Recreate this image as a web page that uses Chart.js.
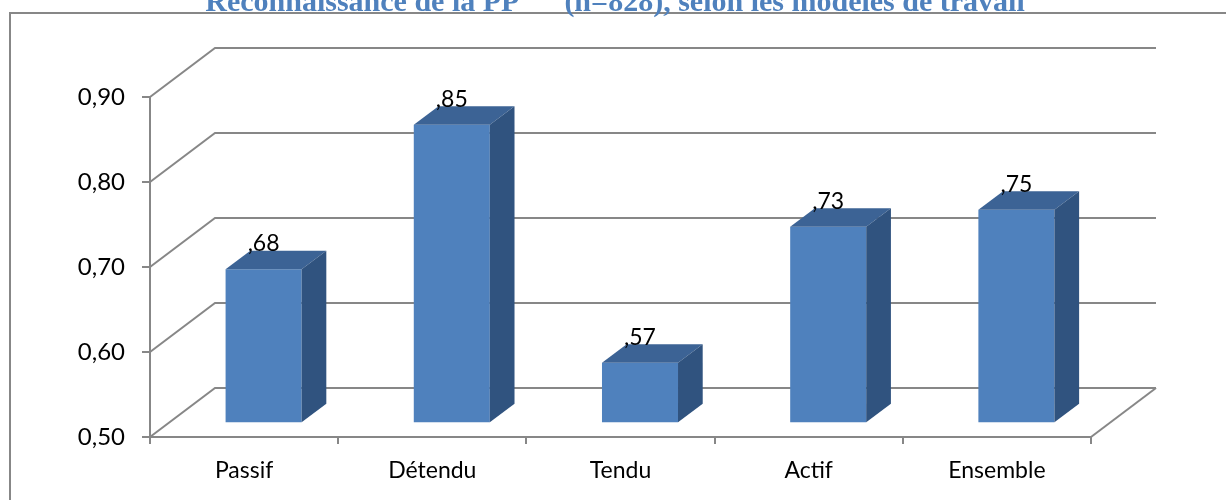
<!DOCTYPE html>
<html>
<head>
<meta charset="utf-8">
<script src="https://cdn.jsdelivr.net/npm/chart.js@4"></script>
<style>
  html, body { margin: 0; padding: 0; background: #fff; }
  #wrap { width: 1226px; height: 500px; }
</style>
</head>
<body>
<div id="wrap"><canvas id="myChart" width="1226" height="500"></canvas></div>
<script>
// scores per work model
const categories = ['Passif', 'Détendu', 'Tendu', 'Actif', 'Ensemble'];
const scores = [0.68, 0.85, 0.57, 0.73, 0.75];
const scoreLabels = [',68', ',85', ',57', ',73', ',75'];
const yMin = 0.5;
const yMax = 0.9;
const yStep = 0.1;
const titleText = 'Reconnaissance de la PP      (n=828), selon les modèles de travail';

const gridColor = '#878787';
const frontColor = '#4f81bd';
const topColor = '#3c6395';
const sideColor = '#30537f';

// fake 3d: floor depth and where the columns sit inside it
const depth = { dx: 65, dy: 49 };
const barFront = 0.3;
const barDepth = 0.38;

const pseudo3d = {
    id: 'pseudo3d',
    beforeDraw(chart) {
        const ctx = chart.ctx;
        ctx.save();
        ctx.fillStyle = '#fff';
        ctx.fillRect(0, 0, chart.width, chart.height);
        // frame round the chart
        ctx.strokeStyle = gridColor;
        ctx.lineWidth = 2;
        ctx.strokeRect(10, 13, chart.width + 20, chart.height + 20);
        // heading above the frame
        ctx.fillStyle = '#4f81bd';
        ctx.font = 'bold 30px "Liberation Serif"';
        ctx.textAlign = 'center';
        ctx.textBaseline = 'alphabetic';
        ctx.fillText(titleText, 615, 11);
        ctx.restore();
    },
    beforeDatasetsDraw(chart) {
        const { ctx, chartArea: a, scales: { y } } = chart;
        ctx.save();
        ctx.strokeStyle = gridColor;
        ctx.lineWidth = 2;
        // side wall diagonals + back wall gridlines
        y.ticks.forEach(t => {
            const py = y.getPixelForValue(t.value);
            ctx.beginPath();
            ctx.moveTo(a.left, py);
            ctx.lineTo(a.left + depth.dx, py - depth.dy);
            ctx.lineTo(a.right + depth.dx, py - depth.dy);
            ctx.stroke();
        });
        // right edge of the floor
        ctx.beginPath();
        ctx.moveTo(a.right, a.bottom);
        ctx.lineTo(a.right + depth.dx, a.bottom - depth.dy);
        ctx.stroke();
        ctx.restore();
    },
    beforeDatasetDraw(chart) {
        chart.ctx.save();
        chart.ctx.translate(depth.dx * barFront, -depth.dy * barFront);
    },
    afterDatasetDraw(chart) {
        chart.ctx.restore();
    },
    afterDatasetsDraw(chart) {
        const ctx = chart.ctx;
        const ox = depth.dx * barFront, oy = depth.dy * barFront;
        const bx = depth.dx * barDepth, by = depth.dy * barDepth;
        const meta = chart.getDatasetMeta(0);
        const floor = chart.scales.y.getPixelForValue(yMin);
        ctx.save();
        meta.data.forEach((bar, i) => {
            const left = bar.x - bar.width / 2 + ox;
            const right = bar.x + bar.width / 2 + ox;
            const top = bar.y - oy;
            const base = floor - oy;
            // top face
            ctx.fillStyle = topColor;
            ctx.beginPath();
            ctx.moveTo(left, top);
            ctx.lineTo(left + bx, top - by);
            ctx.lineTo(right + bx, top - by);
            ctx.lineTo(right, top);
            ctx.closePath();
            ctx.fill();
            // side face
            ctx.fillStyle = sideColor;
            ctx.beginPath();
            ctx.moveTo(right, top);
            ctx.lineTo(right + bx, top - by);
            ctx.lineTo(right + bx, base - by);
            ctx.lineTo(right, base);
            ctx.closePath();
            ctx.fill();
            // value label
            ctx.fillStyle = '#000';
            ctx.font = '23px Lato';
            ctx.textAlign = 'center';
            ctx.textBaseline = 'alphabetic';
            ctx.fillText(scoreLabels[i], bar.x + ox, top - 18);
        });
        ctx.restore();
    }
};

const ctx = document.getElementById('myChart').getContext('2d');
const myChart = new Chart(ctx, {
    type: 'bar',
    data: {
        labels: categories,
        datasets: [{
            data: scores,
            backgroundColor: frontColor,
            borderWidth: 0,
            categoryPercentage: 1,
            barPercentage: 0.404
        }]
    },
    options: {
        responsive: false,
        animation: false,
        layout: { padding: { top: 97, right: 135, left: 0, bottom: 0 } },
        plugins: {
            legend: { display: false },
            tooltip: { enabled: false }
        },
        scales: {
            y: {
                min: yMin,
                max: yMax,
                afterFit: (scale) => { scale.width = 150; },
                ticks: {
                    stepSize: yStep,
                    padding: 17,
                    color: '#000',
                    font: { family: 'Lato', size: 24 },
                    callback: (v) => v.toFixed(2).replace('.', ',')
                },
                grid: { drawOnChartArea: false, tickLength: 8, color: gridColor, lineWidth: 2 },
                border: { color: gridColor, width: 2 }
            },
            x: {
                afterFit: (scale) => { scale.height = 63; },
                ticks: {
                    padding: 13,
                    color: '#000',
                    font: { family: 'Lato', size: 23 },
                    maxRotation: 0
                },
                grid: { drawOnChartArea: false, tickLength: 7, color: gridColor, lineWidth: 2 },
                border: { color: gridColor, width: 2 }
            }
        }
    },
    plugins: [pseudo3d]
});
</script>
</body>
</html>
